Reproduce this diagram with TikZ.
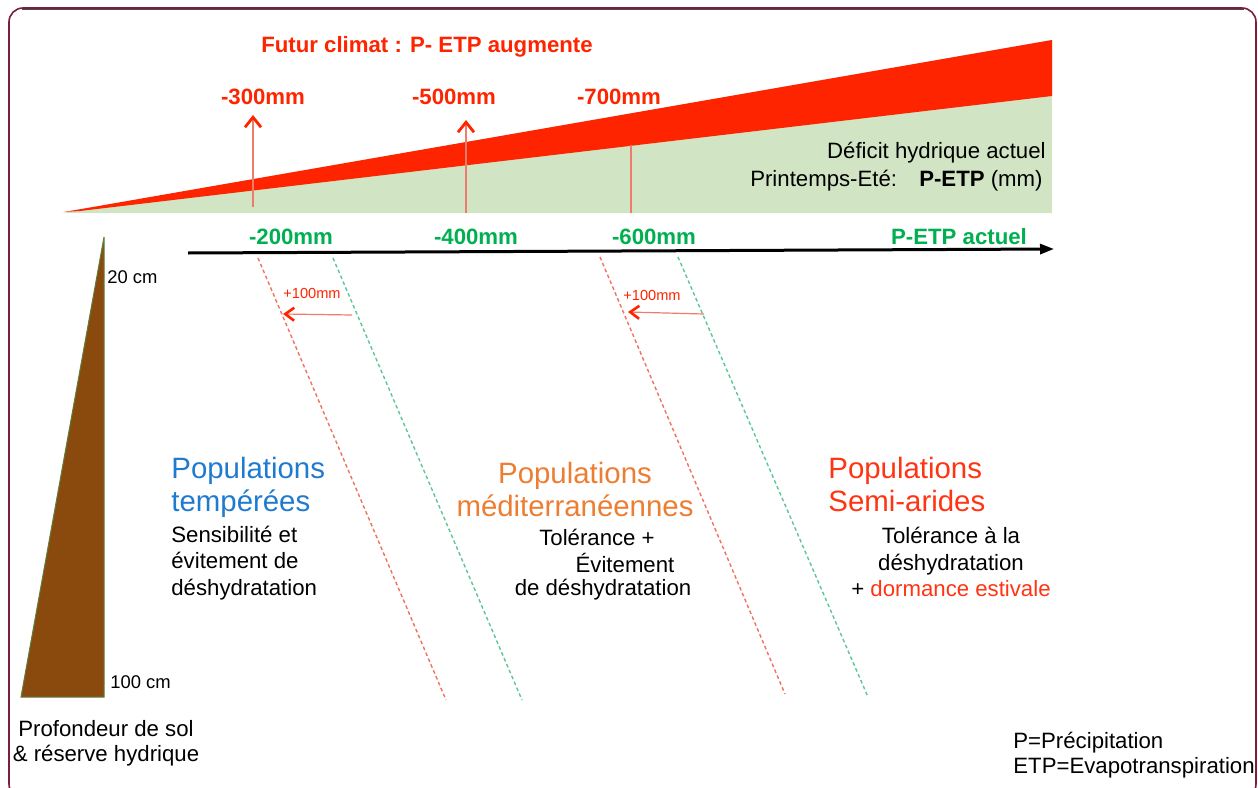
\documentclass[tikz,border=0pt]{standalone}
\usepackage{fontspec}
\setmainfont{Liberation Sans}
\usepackage{xcolor}
\usepackage{tikz}
\usetikzlibrary{arrows.meta,positioning}
\definecolor{FrameMaroon}{HTML}{7A1E3C}
\definecolor{FutRed}{HTML}{FF2400}
\definecolor{FutLine}{HTML}{EE7B6B}
\definecolor{DefGreen}{HTML}{D1E5C5}
\definecolor{ActGreen}{HTML}{00B050}
\definecolor{DashGreen}{HTML}{5CC794}
\definecolor{DashRed}{HTML}{F2705E}
\definecolor{TempBlue}{HTML}{1F7BCF}
\definecolor{MedOrange}{HTML}{ED7D31}
\definecolor{AridRed}{HTML}{FF3412}
\definecolor{SoilBrown}{HTML}{8B4A0D}
\definecolor{SoilEdge}{HTML}{5E7E3E}
\newcommand{\popfs}{\fontsize{14.7}{16.5}\selectfont}
\newcommand{\txtfs}{\fontsize{11.1}{13.2}\selectfont}
\newcommand{\cmfs}{\fontsize{9.2}{11}\selectfont}
\newcommand{\tinyfs}{\fontsize{7.3}{9}\selectfont}

\begin{document}
\begin{tikzpicture}[x=0.5pt,y=-0.5pt,
  lbl/.style={inner sep=0pt,font=\txtfs},
  redlbl/.style={inner sep=0pt,font=\txtfs\bfseries,text=FutRed},
  grnlbl/.style={inner sep=0pt,font=\txtfs\bfseries,text=ActGreen},
  poplbl/.style={inner sep=0pt,font=\popfs},
  futline/.style={FutLine,line width=0.6pt},
  barb/.style={-{Straight Barb[length=5pt,width=8pt,line width=1.4pt,color=FutRed]}},
  shortbarb/.style={-{Straight Barb[length=4.5pt,width=6.5pt,line width=1.3pt,color=FutRed]}},
  dashred/.style={DashRed,line width=0.7pt,dash pattern=on 1.8pt off 1.4pt},
  dashgrn/.style={DashGreen,line width=0.7pt,dash pattern=on 1.8pt off 1.4pt}]
  \useasboundingbox (0,0) rectangle (1258,787);
  \clip (0,0) rectangle (1258,787);
  \draw[FrameMaroon,line width=0.8pt,rounded corners=7pt] (9,8) rectangle (1256,798);
  \draw[black!70,line width=0.7pt] (22,9.5) -- (1244,9.5);

  \fill[DefGreen] (62,213) -- (1052,213) -- (1052,40) -- cycle;
  \fill[FutRed] (64,212) -- (1052,40) -- (1052,96) -- (80,211) -- cycle;

  \coordinate (f3) at (253,207); \coordinate (f3t) at (253,115);
  \coordinate (f5) at (466,213); \coordinate (f5t) at (466,120);
  \coordinate (f7) at (631,213); \coordinate (f7t) at (631,145);
  \draw[futline,barb] (f3) -- (f3t);
  \draw[futline,barb] (f5) -- (f5t);
  \draw[futline] (f7) -- (f7t);

  \node[redlbl] (fut) at (427,47) {Futur climat : P- ETP augmente};
  \node[redlbl] (m300) at (263,97) {-300mm};
  \node[redlbl] (m500) at (454,97) {-500mm};
  \node[redlbl] (m700) at (619,97) {-700mm};
  \node[lbl,anchor=east] (def) at (1046,153) {Déficit hydrique actuel};
  \node[lbl,anchor=east] (pri) at (1043,181) {Printemps-Eté:\quad\textbf{P-ETP} (mm)};

  \coordinate (ax0) at (188,253); \coordinate (ax1) at (1054,249);
  \draw[line width=1.5pt,-{Triangle[length=7pt,width=5pt]}] (ax0) -- (ax1);
  \node[grnlbl] (a200) at (291,237) {-200mm};
  \node[grnlbl] (a400) at (476,237) {-400mm};
  \node[grnlbl] (a600) at (654,237) {-600mm};
  \node[grnlbl] (act) at (959,237) {P-ETP actuel};

  \coordinate (r2t) at (258,258); \coordinate (r2b) at (446,700);
  \coordinate (g2t) at (333,258); \coordinate (g2b) at (522,700);
  \coordinate (r6t) at (600,257); \coordinate (r6b) at (785,694);
  \coordinate (g6t) at (678,257); \coordinate (g6b) at (868,697);
  \draw[dashred] (r2t) -- (r2b);
  \draw[dashgrn] (g2t) -- (g2b);
  \draw[dashred] (r6t) -- (r6b);
  \draw[dashgrn] (g6t) -- (g6b);

  \coordinate (s2) at (352,315); \coordinate (e2) at (283,314);
  \coordinate (s6) at (704,314); \coordinate (e6) at (628,312);
  \draw[futline,shortbarb] (s2) -- (e2);
  \draw[futline,shortbarb] (s6) -- (e6);
  \node[inner sep=0pt,font=\tinyfs,text=FutRed] (p2) at (312,293) {+100mm};
  \node[inner sep=0pt,font=\tinyfs,text=FutRed] (p6) at (652,295) {+100mm};

  \filldraw[fill=SoilBrown,draw=SoilEdge,line width=0.5pt] (104,237) -- (104,697) -- (21,697) -- cycle;
  \node[lbl,font=\cmfs,anchor=west] (c20) at (107,277) {20 cm};
  \node[lbl,font=\cmfs,anchor=west] (c100) at (110,682) {100 cm};
  \node[lbl,align=center,font=\fontsize{11.1}{12.5}\selectfont] (sol) at (106,743) {Profondeur de sol\\\& réserve hydrique};
  \node[lbl,align=left,anchor=west,font=\fontsize{11.1}{12.5}\selectfont] (leg) at (1013,755) {P=Précipitation\\ETP=Evapotranspiration};

  \node[poplbl,text=TempBlue,align=left,anchor=west] (tmp) at (171,487) {Populations\\tempérées};
  \node[lbl,align=left,anchor=west] (tmpd) at (171,563) {Sensibilité et\\évitement de\\déshydratation};
  \node[poplbl,text=MedOrange,align=center] (med) at (575,489) {Populations\\méditerranéennes};
  \node[lbl] (med1) at (597,537) {Tolérance +};
  \node[lbl] (med2) at (625,563) {Évitement};
  \node[lbl] (med3) at (603,590) {de déshydratation};
  \node[poplbl,text=AridRed,align=left,anchor=west] (ari) at (828,484) {Populations\\Semi-arides};
  \node[lbl,align=center] (arid) at (951,562) {Tolérance à la\\déshydratation\\+ \textcolor{AridRed}{dormance estivale}};
\end{tikzpicture}
\end{document}
